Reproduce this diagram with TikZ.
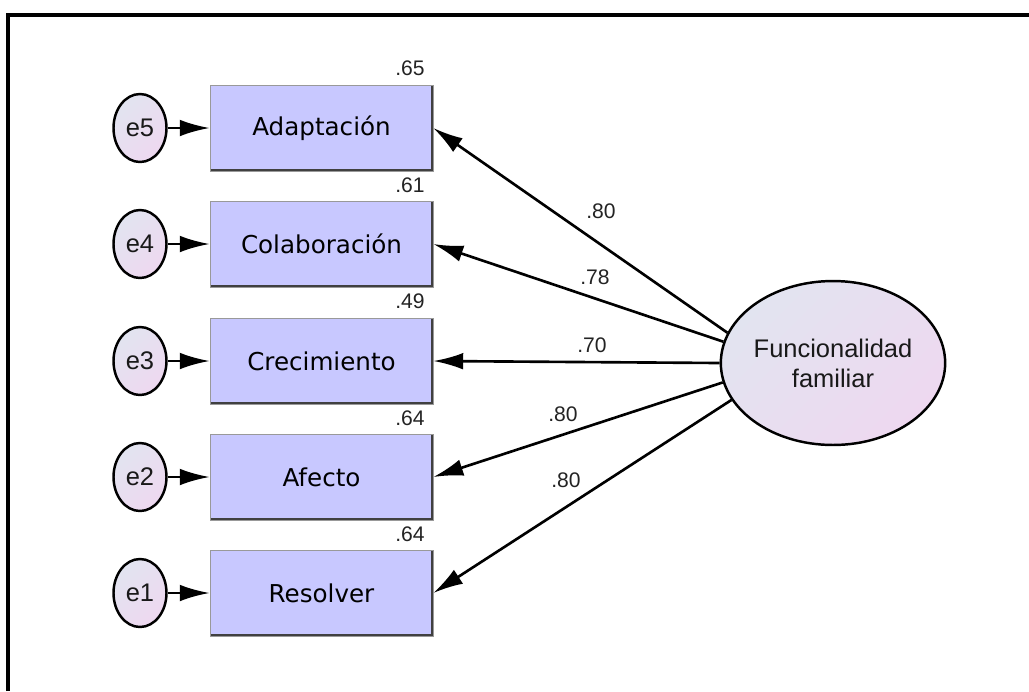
\documentclass[tikz,border=0pt]{standalone}
\usepackage{fontspec}
\setmainfont{Liberation Sans}
\newfontfamily\boxfont{DejaVu Sans}
\usepackage{tikz}
\usetikzlibrary{arrows.meta,shapes.geometric}

\definecolor{boxfill}{RGB}{200,200,255}
\definecolor{shadeA}{RGB}{226,228,240}
\definecolor{shadeB}{RGB}{238,216,240}
\definecolor{numgray}{RGB}{35,35,35}

\tikzset{
  obs/.style={rectangle, fill=boxfill, draw=black!40, line width=0.4pt,
    minimum width=4.46cm, minimum height=1.72cm, inner sep=0pt,
    font=\boxfont\fontsize{14}{16}\selectfont, text=black,
    path picture={\draw[black!75,line width=2.4pt]
      (path picture bounding box.north east) -- (path picture bounding box.south east)
      -- (path picture bounding box.south west);}},
  err/.style={ellipse, draw=black, line width=1.4pt, top color=shadeA, bottom color=shadeB,
    shading angle=45, minimum width=1.06cm, minimum height=1.36cm, inner sep=0pt,
    font=\fontsize{14.5}{16}\selectfont, text=black!90},
  latent/.style={ellipse, draw=black, line width=1.4pt, top color=shadeA, bottom color=shadeB,
    shading angle=45, minimum width=4.34cm, minimum height=3.28cm, inner sep=0pt,
    align=center, font=\fontsize{14.5}{17}\selectfont, text=black!90},
  varlab/.style={font=\fontsize{12}{13}\selectfont, text=numgray, inner sep=0pt},
  wlab/.style={font=\fontsize{12}{13}\selectfont, text=numgray, inner sep=0pt},
  errarrow/.style={-{Latex[length=17pt,width=9.5pt]}, line width=1.5pt},
  loadarrow/.style={-{Latex[length=17pt,width=9.5pt]}, line width=1.5pt},
  frameline/.style={line width=1.9pt, black}
}

\begin{document}
\begin{tikzpicture}[x=0.02cm,y=-0.02cm]
\useasboundingbox (0,0) rectangle (1029,691);
\draw[frameline] (8,691) -- (8,15) -- (1029,15);

% indicators
\node[obs] (adap) at (321.5,128) {Adaptación};
\node[obs] (colab) at (321.5,244) {Colaboración};
\node[obs] (crec) at (321.5,361) {Crecimiento};
\node[obs] (afec) at (321.5,477) {Afecto};
\node[obs] (resol) at (321.5,593) {Resolver};

% errors
\node[err] (e5) at (140,128) {e5};
\node[err] (e4) at (140,244) {e4};
\node[err] (e3) at (140,361) {e3};
\node[err] (e2) at (140,477) {e2};
\node[err] (e1) at (140,593) {e1};

\draw[errarrow] (e5) -- (adap);
\draw[errarrow] (e4) -- (colab);
\draw[errarrow] (e3) -- (crec);
\draw[errarrow] (e2) -- (afec);
\draw[errarrow] (e1) -- (resol);

% squared multiple correlations
\node[varlab] (r5) at (410,68) {.65};
\node[varlab] (r4) at (410,185) {.61};
\node[varlab] (r3) at (410,301) {.49};
\node[varlab] (r2) at (410,418) {.64};
\node[varlab] (r1) at (410,534) {.64};

% latent factor
\node[latent] (fam) at (833,363) {Funcionalidad\\familiar};

\draw[loadarrow] (fam.164) -- (adap.east);
\draw[loadarrow] (fam.169) -- (colab.east);
\draw[loadarrow] (fam.180) -- (crec.east);
\draw[loadarrow] (fam.190) -- (afec.east);
\draw[loadarrow] (fam.200) -- (resol.east);

\node[wlab] (w5) at (601,211) {.80};
\node[wlab] (w4) at (595,277) {.78};
\node[wlab] (w3) at (592,345) {.70};
\node[wlab] (w2) at (563,414) {.80};
\node[wlab] (w1) at (566,480) {.80};
\end{tikzpicture}
\end{document}
